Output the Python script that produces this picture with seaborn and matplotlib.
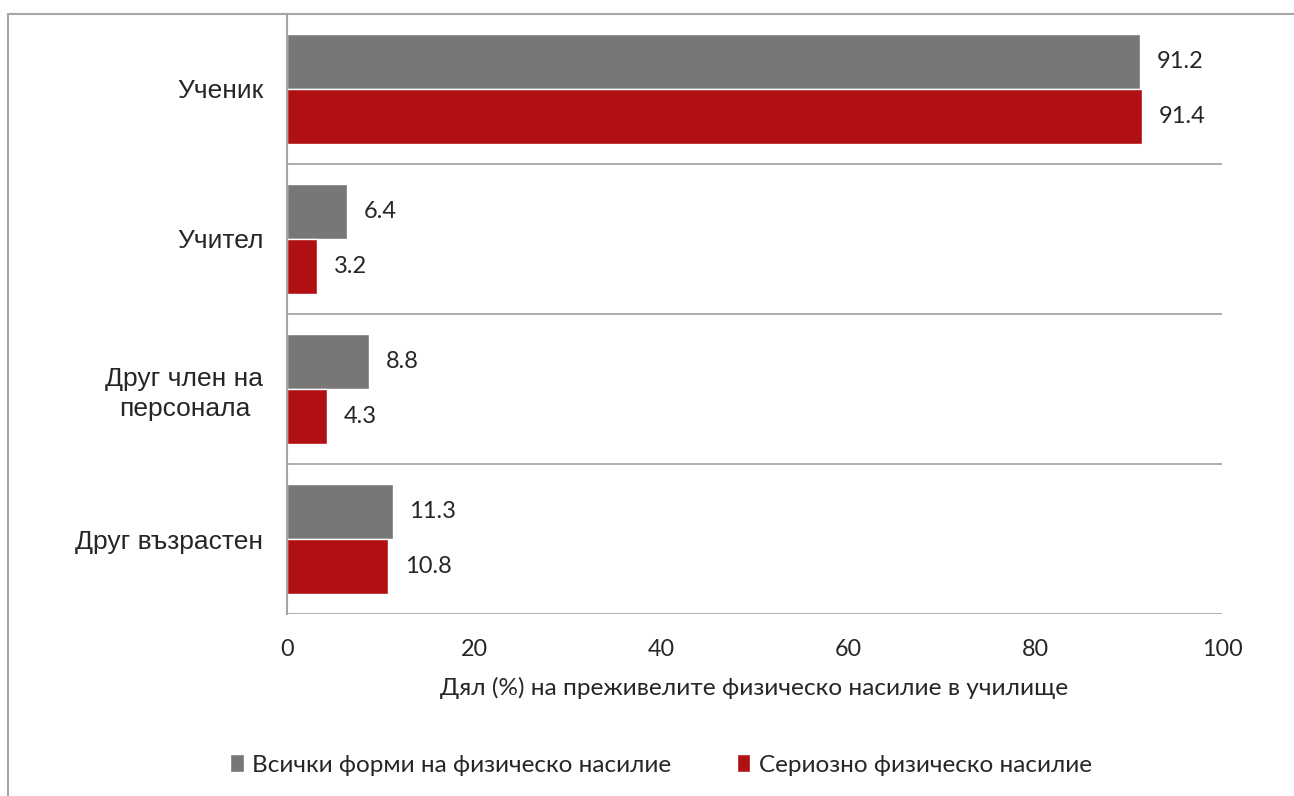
import seaborn as sns
from matplotlib import pyplot as plt
from matplotlib.patches import Rectangle
import pandas as pd

categories = ['Ученик', 'Учител', 'Друг член на\nперсонала', 'Друг възрастен']
all_forms = [91.2, 6.4, 8.8, 11.3]
serious = [91.4, 3.2, 4.3, 10.8]
series_names = ['Всички форми на физическо насилие', 'Сериозно физическо насилие']
colors = ['#777777', '#B11013']

df = pd.DataFrame({'cat': categories * 2,
                   'val': all_forms + serious,
                   'series': [series_names[0]] * 4 + [series_names[1]] * 4})

sns.set_style('white')
plt.rcParams['font.family'] = ['Lato', 'DejaVu Sans']

fig = plt.figure(figsize=(12.94, 7.96), dpi=100)
ax = fig.add_axes([287 / 1294, 1 - 614 / 796, 935 / 1294, 600 / 796])

sns.barplot(data=df, y='cat', x='val', hue='series', orient='h',
            palette=colors, width=0.733, saturation=1, ax=ax, legend=True)

for cont in ax.containers:
    ax.bar_label(cont, fmt='%.1f', padding=12, fontsize=17)

ax.set_xlim(0, 100)
ax.set_ylim(3.5, -0.5)
ax.set_xticks(range(0, 101, 20))
ax.tick_params(axis='x', length=0, labelsize=16.8, pad=18)
ax.set_yticks(range(4))
ax.set_yticklabels(categories, family=['Liberation Sans', 'DejaVu Sans'], fontsize=19,
                   linespacing=1.3, multialignment='center')
ax.tick_params(axis='y', which='major', length=0, pad=17)
ax.set_yticks([0.5, 1.5, 2.5, 3.5], minor=True)
ax.tick_params(axis='y', which='minor', length=7, color='#A0A0A0', width=1.2)
ax.grid(axis='y', which='minor', color='#A0A0A0', lw=1.2)
ax.grid(axis='x', visible=False)
ax.set_ylabel('')
ax.set_xlabel('Дял (%) на преживелите физическо насилие в училище', fontsize=17.6, labelpad=12)

for s in ['top', 'right', 'bottom']:
    ax.spines[s].set_visible(False)
ax.spines['left'].set_color('#A6A6A6')
ax.spines['left'].set_linewidth(1.5)

# outer chart frame (cropped on right and bottom)
fig.patches.append(Rectangle((8 / 1294, -0.05), 1.1, 1 - 14 / 796 + 0.05,
                             transform=fig.transFigure, fill=False,
                             edgecolor='#A6A6A6', lw=1.5))

h, l = ax.get_legend_handles_labels()
ax.get_legend().remove()
fig.legend(h, l, loc='center', bbox_to_anchor=(0.511, 1 - 765 / 796), ncol=2,
           frameon=False, fontsize=17.5, handlelength=0.55, handleheight=0.75,
           handletextpad=0.35, columnspacing=2.7)

plt.savefig('out.png', dpi=100)
